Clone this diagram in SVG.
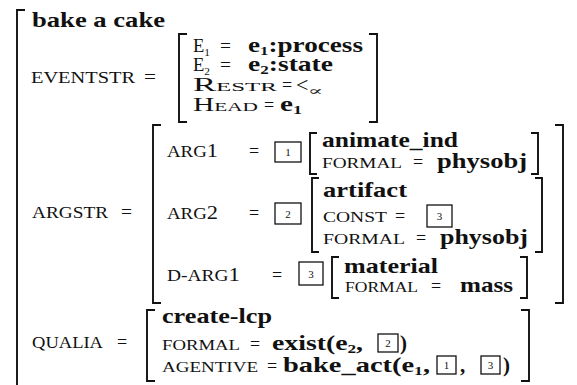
<svg xmlns="http://www.w3.org/2000/svg" width="577" height="385" viewBox="0 0 577 385">
<style>
text{font-family:"Liberation Serif","DejaVu Serif",serif;fill:#111}
.b{font-weight:bold;font-size:21px}
.bs{font-weight:bold;font-size:13px}
.sc{font-size:15px}
.scL{font-size:16px}
.sc13{font-size:13px}
.r{font-size:18px}
.d{font-size:19px}
.sub{font-size:11px}
.eq{font-size:18px}
.bx{font-size:11px;text-anchor:middle}
.brk{fill:none;stroke:#111;stroke-width:1.9}
.box{fill:none;stroke:#111;stroke-width:1.3}
</style>
<rect width="577" height="385" fill="#fff"/>
<g id="outer">
<path class="brk" d="M25,10H17V386"/>
<text class="b" x="32" y="27" textLength="133" lengthAdjust="spacingAndGlyphs">bake a cake</text>
</g>
<g id="eventstr">
<text class="scL" x="31" y="83" textLength="104" lengthAdjust="spacingAndGlyphs">EVENTSTR</text>
<text class="eq" x="144" y="83" textLength="12" lengthAdjust="spacingAndGlyphs">=</text>
<path class="brk" d="M187,34H179V122H187M369,34H377V122H369"/>
<text class="r" x="193" y="52" textLength="17" lengthAdjust="spacingAndGlyphs">E<tspan class="sub" dy="4">1</tspan></text>
<text class="eq" x="220" y="52" textLength="11" lengthAdjust="spacingAndGlyphs">=</text>
<text class="b" x="248" y="52" textLength="115" lengthAdjust="spacingAndGlyphs">e<tspan class="bs" dy="3">1</tspan><tspan dy="-3">:process</tspan></text>
<text class="r" x="193" y="71" textLength="17" lengthAdjust="spacingAndGlyphs">E<tspan class="sub" dy="4">2</tspan></text>
<text class="eq" x="220" y="71" textLength="11" lengthAdjust="spacingAndGlyphs">=</text>
<text class="b" x="248" y="71" textLength="85" lengthAdjust="spacingAndGlyphs">e<tspan class="bs" dy="3">2</tspan><tspan dy="-3">:state</tspan></text>
<text class="r" x="193" y="91" textLength="84" lengthAdjust="spacingAndGlyphs">R<tspan class="sc13">ESTR</tspan></text>
<text class="eq" x="282" y="91">=</text>
<text x="296" y="92" style="font-size:22px">&lt;</text>
<text style="font-family:'DejaVu Serif',serif;font-size:12px" x="308" y="95" textLength="15" lengthAdjust="spacingAndGlyphs">∝</text>
<text class="r" x="193" y="111" textLength="65" lengthAdjust="spacingAndGlyphs">H<tspan class="sc13">EAD</tspan></text>
<text class="eq" x="264" y="111">=</text>
<text class="b" x="280" y="111" textLength="22" lengthAdjust="spacingAndGlyphs">e<tspan class="bs" dy="3">1</tspan></text>
</g>
<g id="argstr">
<text class="scL" x="32" y="218" textLength="76" lengthAdjust="spacingAndGlyphs">ARGSTR</text>
<text class="eq" x="121" y="218" textLength="11" lengthAdjust="spacingAndGlyphs">=</text>
<path class="brk" d="M161,125H153V303H161M555,125H563V303H555"/>
</g>
<g id="arg1">
<text class="scL" x="167" y="157" textLength="51" lengthAdjust="spacingAndGlyphs">ARG<tspan class="d">1</tspan></text>
<text class="eq" x="249" y="157">=</text>
<rect class="box" x="275" y="142" width="26" height="20"/><text class="bx" x="288" y="156">1</text>
<path class="brk" d="M317,133H310V174H317M531,133H538V174H531"/>
<text class="b" x="322" y="147" textLength="136" lengthAdjust="spacingAndGlyphs">animate_ind</text>
<text class="sc" x="322" y="168" textLength="80" lengthAdjust="spacingAndGlyphs">FORMAL</text>
<text class="eq" x="413" y="168">=</text>
<text class="b" x="437" y="168" textLength="90" lengthAdjust="spacingAndGlyphs">physobj</text>
</g>
<g id="arg2">
<text class="scL" x="167" y="219" textLength="51" lengthAdjust="spacingAndGlyphs">ARG<tspan class="d">2</tspan></text>
<text class="eq" x="249" y="219">=</text>
<rect class="box" x="275" y="203" width="26" height="21"/><text class="bx" x="288" y="218">2</text>
<path class="brk" d="M319,178H312V252H319M535,178H542V252H535"/>
<text class="b" x="323" y="197" textLength="84" lengthAdjust="spacingAndGlyphs">artifact</text>
<text class="sc" x="323" y="222" textLength="64" lengthAdjust="spacingAndGlyphs">CONST</text>
<text class="eq" x="395" y="222">=</text>
<rect class="box" x="427" y="205" width="25" height="22"/><text class="bx" x="439.5" y="220">3</text>
<text class="sc" x="323" y="244" textLength="82" lengthAdjust="spacingAndGlyphs">FORMAL</text>
<text class="eq" x="416" y="244">=</text>
<text class="b" x="440" y="244" textLength="88" lengthAdjust="spacingAndGlyphs">physobj</text>
</g>
<g id="darg1">
<text class="scL" x="167" y="281" textLength="73" lengthAdjust="spacingAndGlyphs">D-ARG<tspan class="d">1</tspan></text>
<text class="eq" x="272" y="281">=</text>
<rect class="box" x="299" y="262" width="24" height="23"/><text class="bx" x="311" y="278">3</text>
<path class="brk" d="M339,257H332V298H339M520,257H527V298H520"/>
<text class="b" x="344" y="273" textLength="94" lengthAdjust="spacingAndGlyphs">material</text>
<text class="sc" x="345" y="292" textLength="73" lengthAdjust="spacingAndGlyphs">FORMAL</text>
<text class="eq" x="431" y="292">=</text>
<text class="b" x="460" y="292" textLength="53" lengthAdjust="spacingAndGlyphs">mass</text>
</g>
<g id="qualia">
<text class="scL" x="32" y="348" textLength="71" lengthAdjust="spacingAndGlyphs">QUALIA</text>
<text class="eq" x="117" y="348">=</text>
<path class="brk" d="M155,310H147V381H155M521,310H529V381H521"/>
<text class="b" x="162" y="323" textLength="110" lengthAdjust="spacingAndGlyphs">create-lcp</text>
<text class="sc" x="162" y="350" textLength="78" lengthAdjust="spacingAndGlyphs">FORMAL</text>
<text class="eq" x="250" y="350">=</text>
<text class="b" x="272" y="350" textLength="91" lengthAdjust="spacingAndGlyphs">exist(e<tspan class="bs" dy="3">2</tspan><tspan dy="-3">,</tspan></text>
<rect class="box" x="378" y="334" width="20" height="18"/><text class="bx" x="388" y="347">2</text>
<text class="b" x="400" y="350">)</text>
<text class="sc" x="162" y="372" textLength="96" lengthAdjust="spacingAndGlyphs">AGENTIVE</text>
<text class="eq" x="267" y="372">=</text>
<text class="b" x="283" y="372" textLength="147" lengthAdjust="spacingAndGlyphs">bake_act(e<tspan class="bs" dy="3">1</tspan><tspan dy="-3">,</tspan></text>
<rect class="box" x="437" y="356" width="19" height="18"/><text class="bx" x="446.5" y="369">1</text>
<text class="b" x="460" y="372">,</text>
<rect class="box" x="481" y="356" width="19" height="18"/><text class="bx" x="490.5" y="369">3</text>
<text class="b" x="503" y="372">)</text>
</g>
</svg>
